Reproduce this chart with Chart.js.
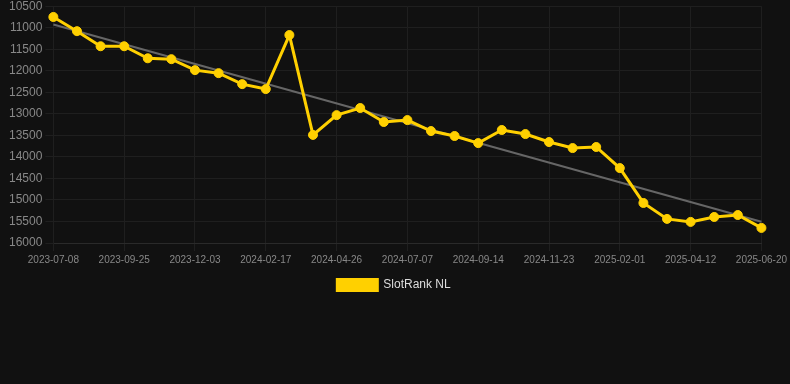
<!DOCTYPE html>
<html>
<head>
<meta charset="utf-8">
<script src="https://cdn.jsdelivr.net/npm/chart.js@4"></script>
<style>
    html, body { margin: 0; padding: 0; background: #111111; overflow: hidden; }
    #wrap { position: relative; top: -4px; width: 790px; height: 305px; }
</style>
</head>
<body>
<div id="wrap"><canvas id="rank-chart"></canvas></div>
<script>
// Dates (category axis, only every 3rd is shown)
const dates = [
    '2023-07-08', '2023-08-04', '2023-08-30', '2023-09-25', '2023-10-18', '2023-11-10',
    '2023-12-03', '2023-12-28', '2024-01-22', '2024-02-17', '2024-03-10', '2024-04-03',
    '2024-04-26', '2024-05-20', '2024-06-13', '2024-07-07', '2024-07-30', '2024-08-22',
    '2024-09-14', '2024-10-07', '2024-10-30', '2024-11-23', '2024-12-16', '2025-01-08',
    '2025-02-01', '2025-02-24', '2025-03-19', '2025-04-12', '2025-05-05', '2025-05-28',
    '2025-06-20'
];

// Rank values
const rankValues = [
    10750, 11080, 11430, 11430, 11710, 11730, 11985, 12055, 12310, 12425,
    11170, 13490, 13030, 12865, 13190, 13145, 13400, 13515, 13680, 13375,
    13470, 13655, 13795, 13770, 14260, 15070, 15440, 15510, 15395, 15350,
    15650
];

// Trend line endpoints (first and last category)
const trendStart = 10925;
const trendEnd = 15505;
const trendValues = dates.map((d, i) => i === 0 ? trendStart : (i === dates.length - 1 ? trendEnd : null));

const yTicks = [10500, 11000, 11500, 12000, 12500, 13000, 13500, 14000, 14500, 15000, 15500, 16000];

Chart.defaults.font.family = 'Arial, "Liberation Sans", Helvetica, sans-serif';

// nudge the legend a bit to the left, like the original
const legendShift = {
    id: 'legendShift',
    afterLayout(chart) {
        if (chart.legend) {
            chart.legend.left -= 4;
            chart.legend.right -= 4;
        }
    }
};

const ctx = document.getElementById('rank-chart').getContext('2d');
new Chart(ctx, {
    type: 'line',
    data: {
        labels: dates,
        datasets: [
            {
                label: 'SlotRank NL',
                data: rankValues,
                borderColor: '#ffd000',
                backgroundColor: '#ffd000',
                borderWidth: 3,
                pointRadius: 4.5,
                pointBorderWidth: 1,
                pointHoverRadius: 5,
                pointBackgroundColor: '#ffd000',
                pointBorderColor: '#ffd000',
                tension: 0,
                fill: false,
                order: 1
            },
            {
                label: 'Trend',
                data: trendValues,
                borderColor: '#666666',
                borderWidth: 2,
                pointRadius: 0,
                spanGaps: true,
                fill: false,
                order: 2
            }
        ]
    },
    plugins: [legendShift],
    options: {
        responsive: true,
        maintainAspectRatio: false,
        animation: false,
        layout: { padding: { left: 6, right: 0, top: 0, bottom: 0 } },
        plugins: {
            legend: {
                display: true,
                position: 'bottom',
                labels: {
                    color: '#dddddd',
                    boxWidth: 40,
                    boxHeight: 11,
                    font: { size: 12 },
                    filter: (item) => item.text !== 'Trend'
                }
            },
            tooltip: { enabled: false }
        },
        scales: {
            x: {
                ticks: {
                    color: '#888888',
                    font: { size: 10 },
                    maxRotation: 0,
                    autoSkip: true,
                    callback: function(value, index) {
                        return index % 3 === 0 ? dates[index] : null;
                    }
                },
                grid: { color: '#1f1f1f' },
                border: { color: '#2a2a2a' }
            },
            y: {
                reverse: true,
                min: 10500,
                max: 16000,
                afterBuildTicks: (axis) => { axis.ticks = yTicks.map(v => ({ value: v })); },
                ticks: {
                    color: '#888888',
                    font: { size: 12 },
                    callback: (value) => String(value)
                },
                grid: { color: '#1f1f1f' },
                border: { color: '#1f1f1f' }
            }
        }
    }
});
</script>
</body>
</html>
